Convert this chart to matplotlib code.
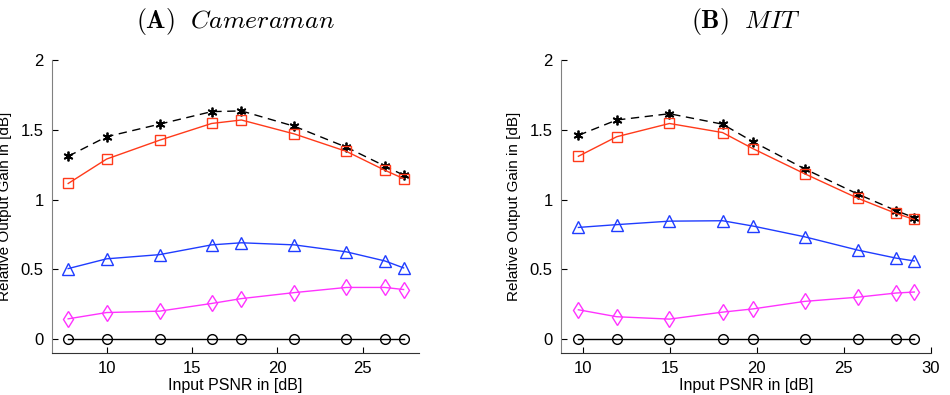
import matplotlib
matplotlib.use('Agg')
import matplotlib.pyplot as plt

plt.rcParams['font.family'] = ['Liberation Sans', 'DejaVu Sans']
plt.rcParams['mathtext.fontset'] = 'cm'

# (A) Cameraman
cam_x = [7.75, 10.0, 13.1, 16.15, 17.9, 21.0, 24.05, 26.3, 27.4]
cam_star = [1.31, 1.45, 1.54, 1.63, 1.635, 1.525, 1.375, 1.24, 1.175]
cam_square = [1.115, 1.29, 1.425, 1.545, 1.57, 1.47, 1.345, 1.21, 1.15]
cam_tri = [0.505, 0.575, 0.605, 0.675, 0.69, 0.675, 0.625, 0.56, 0.51]
cam_diam = [0.145, 0.19, 0.20, 0.255, 0.29, 0.333, 0.37, 0.37, 0.355]
cam_circ = [0, 0, 0, 0, 0, 0, 0, 0, 0]

# (B) MIT
mit_x = [9.75, 11.95, 14.98, 18.03, 19.77, 22.74, 25.78, 28.0, 29.04]
mit_star = [1.46, 1.57, 1.615, 1.54, 1.415, 1.22, 1.04, 0.92, 0.87]
mit_square = [1.31, 1.45, 1.545, 1.48, 1.365, 1.185, 1.01, 0.9, 0.857]
mit_tri = [0.80, 0.82, 0.845, 0.848, 0.81, 0.733, 0.638, 0.58, 0.56]
mit_diam = [0.21, 0.16, 0.143, 0.193, 0.216, 0.27, 0.30, 0.33, 0.337]
mit_circ = [0, 0, 0, 0, 0, 0, 0, 0, 0]

panels = [
    (r'$(\mathbf{A})\ \ \mathit{Cameraman}$', cam_x,
     [cam_star, cam_square, cam_tri, cam_diam, cam_circ], (6.8, 28.3), [10, 15, 20, 25]),
    (r'$(\mathbf{B})\ \ \mathit{MIT}$', mit_x,
     [mit_star, mit_square, mit_tri, mit_diam, mit_circ], (8.75, 30), [10, 15, 20, 25, 30]),
]

styles = [
    dict(color='black', linestyle='--', marker=(6, 2, 0), markersize=7, markeredgewidth=1.3, dashes=(6, 4)),
    dict(color='#ff3a1a', linestyle='-', marker='s', markersize=7, markerfacecolor='none', markeredgewidth=1.0),
    dict(color='#1f3cff', linestyle='-', marker='^', markersize=8, markerfacecolor='none', markeredgewidth=1.0),
    dict(color='#ff33ff', linestyle='-', marker='d', markersize=8, markerfacecolor='none', markeredgewidth=1.0),
    dict(color='black', linestyle='-', marker='o', markersize=7, markerfacecolor='none', markeredgewidth=1.0),
]

fig = plt.figure(figsize=(9.5, 3.95), dpi=100)
rects = [[0.0547, 0.1063, 0.3863, 0.7418], [0.5905, 0.1063, 0.3895, 0.7418]]

for rect, (title, xs, series, xlim, xticks) in zip(rects, panels):
    ax = fig.add_axes(rect)
    for ys, st in zip(series, styles):
        ax.plot(xs, ys, linewidth=1.0, **st)
    ax.set_xlim(*xlim)
    ax.set_ylim(-0.1, 2)
    ax.set_xticks(xticks)
    ax.set_yticks([0, 0.5, 1, 1.5, 2])
    ax.set_yticklabels(['0', '0.5', '1', '1.5', '2'])
    ax.spines['top'].set_visible(False)
    ax.spines['right'].set_visible(False)
    ax.spines['left'].set_color('#808080')
    ax.spines['bottom'].set_color('#333333')
    ax.tick_params(direction='in', length=4, labelsize=12, pad=6)
    ax.set_xlabel('Input PSNR in [dB]', fontsize=11.5, labelpad=1)
    ax.set_ylabel('Relative Output Gain in [dB]', fontsize=11, labelpad=6)
    ax.set_title(title, fontsize=18.5, pad=23)

plt.savefig('out.png', dpi=100)
